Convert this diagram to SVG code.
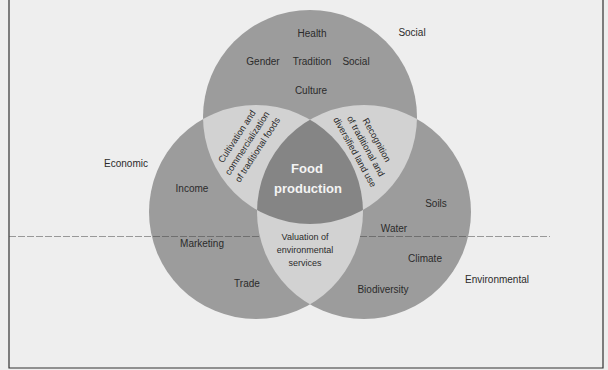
<svg xmlns="http://www.w3.org/2000/svg" width="608" height="370" viewBox="0 0 608 370">
<style>
text{font-family:"Liberation Sans",Arial,sans-serif;fill:#2b2b2b;text-anchor:middle}
.l{font-size:10px}
.s{font-size:9px}
.r{font-size:9.2px}
.f{font-size:13px;font-weight:bold;fill:#f4f4f4}
.single{fill:#9c9c9c}
.pair{fill:#d2d2d2}
.triple{fill:#858585}
</style>
<defs>
<clipPath id="cTop"><circle cx="310" cy="117" r="107"/></clipPath>
<clipPath id="cLeft"><circle cx="256" cy="212" r="107"/></clipPath>
<clipPath id="cRight"><circle cx="364" cy="212" r="107"/></clipPath>
</defs>
<rect x="0" y="0" width="608" height="370" fill="#eeeeee"/>
<polyline points="9,0 9,368 603,368 603,0" fill="none" stroke="#333" stroke-width="1.2"/>
<g id="social-circle"><circle class="single" cx="310" cy="117" r="107"/></g>
<g id="economic-circle"><circle class="single" cx="256" cy="212" r="107"/></g>
<g id="environmental-circle"><circle class="single" cx="364" cy="212" r="107"/></g>
<line x1="9" y1="236.5" x2="550" y2="236.5" stroke="#444" stroke-width="1" stroke-dasharray="7 2" opacity="0.5"/>
<g id="cultivation-region"><circle class="pair" cx="256" cy="212" r="107" clip-path="url(#cTop)"/></g>
<g id="recognition-region"><circle class="pair" cx="364" cy="212" r="107" clip-path="url(#cTop)"/></g>
<g id="valuation-region"><circle class="pair" cx="364" cy="212" r="107" clip-path="url(#cLeft)"/></g>
<g id="food-production-region"><g clip-path="url(#cTop)"><circle class="triple" cx="364" cy="212" r="107" clip-path="url(#cLeft)"/></g></g>
<g id="connectors"/>
<g id="social-labels">
<text class="l" x="412" y="35.5">Social</text>
<text class="l" x="312" y="36.5">Health</text>
<text class="l" x="263" y="64.5">Gender</text>
<text class="l" x="312" y="64.5">Tradition</text>
<text class="l" x="356" y="64.5">Social</text>
<text class="l" x="311" y="93.5">Culture</text>
</g>
<g id="economic-labels">
<text class="l" x="126" y="166.5">Economic</text>
<text class="l" x="192" y="191.5">Income</text>
<text class="l" x="202" y="246.5">Marketing</text>
<text class="l" x="247" y="286.5">Trade</text>
</g>
<g id="environmental-labels">
<text class="l" x="436" y="206.5">Soils</text>
<text class="l" x="394" y="231.5">Water</text>
<text class="l" x="425" y="261.5">Climate</text>
<text class="l" x="383" y="292.5">Biodiversity</text>
<text class="l" x="497" y="282.5">Environmental</text>
</g>
<g id="cultivation-label" transform="translate(247,143) rotate(-57)">
<text class="r" x="0" y="-9">Cultivation and</text>
<text class="r" x="0" y="3.3">commercialization</text>
<text class="r" x="0" y="15.6">of traditional foods</text>
</g>
<g id="recognition-label" transform="translate(366,146) rotate(61)">
<text class="r" x="0" y="-9.2">Recognition</text>
<text class="r" x="0" y="3.3">of traditional and</text>
<text class="r" x="0" y="15.8">diversified land use</text>
</g>
<g id="valuation-label">
<text class="s" x="305" y="240">Valuation of</text>
<text class="s" x="305" y="252.5">environmental</text>
<text class="s" x="305" y="265.5">services</text>
</g>
<g id="food-production-label">
<text class="f" x="307" y="172.5">Food</text>
<text class="f" x="308" y="192.5">production</text>
</g>
</svg>
